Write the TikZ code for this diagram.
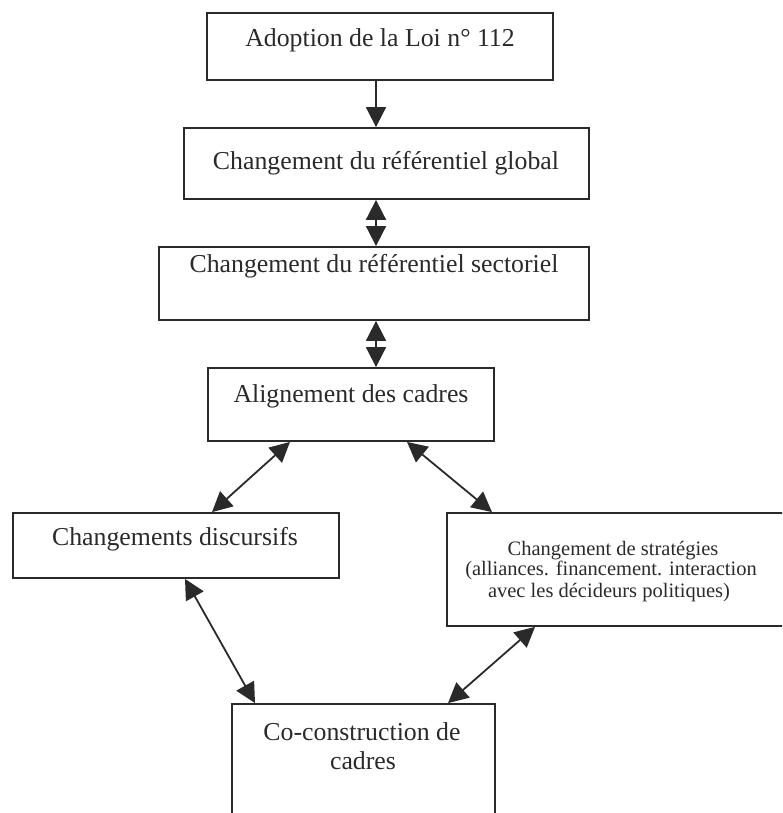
\documentclass[tikz,border=0pt]{standalone}
\usepackage{fontspec}
\setmainfont{Liberation Serif}
\usetikzlibrary{arrows.meta}
\definecolor{ink}{HTML}{2A2A2A}
\tikzset{
  box/.style={draw=ink, line width=1.8pt, rectangle, inner sep=0pt},
  lbl/.style={anchor=base, inner sep=0pt, text=ink, font=\fontsize{25.8}{30}\selectfont},
  small/.style={anchor=base, inner sep=0pt, text=ink, font=\fontsize{20.5}{24}\selectfont},
  conn/.style={draw=ink, line width=1.8pt, -{Triangle[length=20pt,width=20pt]}},
  biconn/.style={draw=ink, line width=1.8pt, {Triangle[length=20pt,width=20pt]}-{Triangle[length=20pt,width=20pt]}}
}
\begin{document}
\begin{tikzpicture}[x=1pt,y=-1pt]
\useasboundingbox (0,0) rectangle (782,813);
\clip (0,0) rectangle (782,813);
% boxes
\node[box, minimum width=346pt, minimum height=67pt] (b1) at (380,46.5) {};
\node[box, minimum width=405pt, minimum height=71pt] (b2) at (386.5,163.5) {};
\node[box, minimum width=430pt, minimum height=73pt] (b3) at (374,283.5) {};
\node[box, minimum width=286pt, minimum height=73pt] (b4) at (351,404.5) {};
\node[box, minimum width=326pt, minimum height=65pt] (b5) at (176,545.5) {};
\node[box, minimum width=343pt, minimum height=113pt] (b6) at (618.5,569.5) {};
\node[box, minimum width=263pt, minimum height=126pt] (b7) at (363.5,767) {};
% texts
\node[lbl] (t1) at (380,47) {Adoption de la Loi n° 112};
\node[lbl] (t2) at (386,170) {Changement du référentiel global};
\node[lbl] (t3) at (374,272) {Changement du référentiel sectoriel};
\node[lbl] (t4) at (351,402) {Alignement des cadres};
\node[lbl] (t5) at (175,545) {Changements discursifs};
\node[small] (t6a) at (613,555) {Changement de stratégies};
\node[small] (t6b) at (611,575) {(alliances. financement. interaction};
\node[small] (t6c) at (609,597) {avec les décideurs politiques)};
\node[lbl] (t7a) at (362,740) {Co-construction de};
\node[lbl] (t7b) at (363,769) {cadres};
% connectors
\draw[conn] ([xshift=-4pt]b1.south) -- ([xshift=-10.5pt]b2.north);
\draw[biconn] ([xshift=-10.5pt]b2.south) -- ([xshift=2pt]b3.north);
\draw[biconn] ([xshift=2pt]b3.south) -- ([xshift=25pt]b4.north);
\draw[biconn] ([xshift=-61pt]b4.south) -- ([xshift=36pt]b5.north);
\draw[biconn] ([xshift=56pt]b4.south) -- ([xshift=-126.5pt]b6.north);
\draw[biconn] ([xshift=9pt]b5.south) -- ([xshift=-108.5pt]b7.north);
\draw[biconn] ([xshift=-83.5pt]b6.south) -- ([xshift=84.5pt]b7.north);
\end{tikzpicture}
\end{document}
